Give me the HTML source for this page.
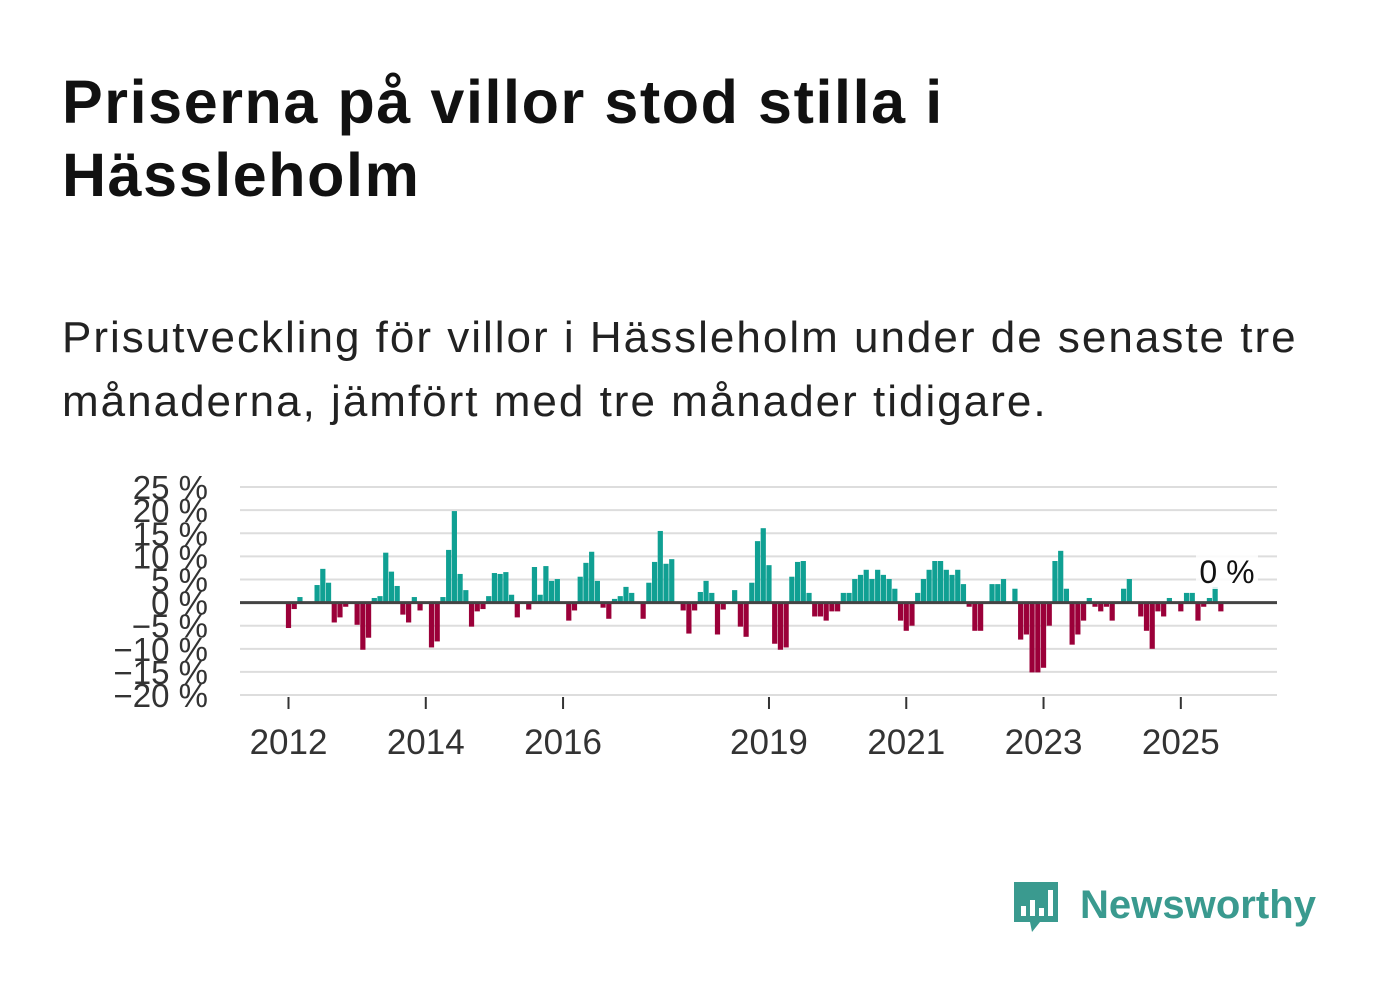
<!DOCTYPE html>
<html><head><meta charset="utf-8"><style>
body{margin:0;background:#fff;width:1382px;height:999px;overflow:hidden;font-family:"Liberation Sans",sans-serif;}
#title{position:absolute;left:62px;top:66px;font-size:61px;font-weight:bold;line-height:73px;color:#111;margin:0;width:1000px;letter-spacing:1.6px}
#sub{position:absolute;left:62px;top:306px;font-size:44px;line-height:64px;color:#222;width:1320px;letter-spacing:2px}
#logo{position:absolute;left:1010px;top:878px}
</style></head><body>
<h1 id="title">Priserna på villor stod stilla i Hässleholm</h1>
<div id="sub">Prisutveckling för villor i Hässleholm under de senaste tre månaderna, jämfört med tre månader tidigare.</div>
<svg id="chart" width="1382" height="999" style="position:absolute;left:0;top:0" xmlns="http://www.w3.org/2000/svg"></svg>
<div id="logo">
<svg width="330" height="62" xmlns="http://www.w3.org/2000/svg">
<path d="M4 4h44v40H30l-8 10-2-10H4z" fill="#3a9a8f"/>
<rect x="11" y="28" width="5" height="10" fill="#fff"/><rect x="20" y="22" width="5" height="16" fill="#fff"/><rect x="29" y="30" width="5" height="8" fill="#fff"/><rect x="38" y="12" width="5" height="26" fill="#fff"/>
<text x="70" y="40" font-family="Liberation Sans, sans-serif" font-weight="bold" font-size="40" textLength="236" fill="#3a9a8f">Newsworthy</text>
</svg></div>
<script>
const values=[-5.5,-1.4,1.2,0,0,3.8,7.3,4.3,-4.3,-3.2,-0.9,0,-4.8,-10.2,-7.6,1.0,1.4,10.8,6.7,3.6,-2.6,-4.3,1.2,-1.7,
0,-9.7,-8.4,1.2,11.4,19.8,6.2,2.7,-5.2,-1.9,-1.4,1.4,6.4,6.2,6.6,1.7,-3.2,0,-1.5,7.7,1.7,7.9,4.7,5.1,
0,-3.9,-1.7,5.6,8.6,11.0,4.7,-1.1,-3.5,0.8,1.4,3.4,2.1,0,-3.5,4.3,8.8,15.5,8.4,9.4,0,-1.7,-6.7,-1.7,
2.3,4.7,2.1,-6.9,-1.5,0,2.7,-5.2,-7.4,4.3,13.3,16.1,8.1,-8.9,-10.2,-9.7,5.6,8.8,9.0,2.1,-3.0,-3.0,
-3.9,-1.9,-1.9,2.1,2.1,5.1,6.0,7.1,5.1,7.1,6.0,5.1,3.0,-3.9,-6.1,-5.0,2.1,5.1,7.1,9.0,9.0,7.1,6.0,7.1,
4.0,-0.9,-6.1,-6.1,0,4.0,4.0,5.1,0,3.0,-8.0,-6.9,-15.1,-15.1,-14.1,-5.0,9.0,11.2,3.0,-9.1,-6.9,-3.9,1.0,-0.9,
-1.9,-0.9,-3.9,0,3.0,5.1,0,-3.0,-6.1,-10.0,-1.9,-3.0,1.0,0,-1.9,2.1,2.1,-3.9,-0.9,1.0,3.4,-1.9];
const startYear=2012;
const yTicks=[25,20,15,10,5,0,-5,-10,-15,-20];
const xTickYears=[2012,2014,2016,2019,2021,2023,2025];
const lastLabel="0 %";
const svg=document.getElementById('chart');
const NS='http://www.w3.org/2000/svg';
const y=v=>602.6-(v)*4.622;
const x=m=>288.5+m*5.72;
function mk(t,a){const e=document.createElementNS(NS,t);for(const k in a)e.setAttribute(k,a[k]);svg.appendChild(e);return e;}
yTicks.forEach(t=>{
 if(t!==0){const g=mk('line',{x1:240,x2:1277,y1:y(t),y2:y(t),stroke:'#ddd','stroke-width':2});
 
 }
 const l=mk('text',{x:208,y:y(t)+12,'text-anchor':'end','font-size':33,fill:'#333','font-family':'Liberation Sans, sans-serif'});
 l.textContent=(t<0?'\u2212'+(-t):t)+' %';
 
 
});
values.forEach((v,i)=>{
 if(v===0)return;
 const r=mk('rect',{x:x(i)-2.6,width:5.2,y:Math.min(y(v),y(0)),height:Math.abs(y(v)-y(0)),fill:v>0?'#10a093':'#9b0039'});
 
 
});
const z=mk('line',{x1:240,x2:1277,y1:y(0),y2:y(0),stroke:'#444','stroke-width':3});


xTickYears.forEach(yr=>{
 const px=x((yr-startYear)*12);
 const t=mk('line',{x1:px,x2:px,y1:697,y2:709,stroke:'#333','stroke-width':2});
 
 
 const l=mk('text',{x:px,y:754,'text-anchor':'middle','font-size':35,fill:'#333','font-family':'Liberation Sans, sans-serif'});
 l.textContent=yr;
 
 
});
const bg=mk('rect',{x:1196,y:553,width:62,height:36,fill:'#fff',opacity:0.85});


const lv=mk('text',{x:1227,y:583,'text-anchor':'middle','font-size':32,fill:'#111','font-family':'Liberation Sans, sans-serif'});
lv.textContent=lastLabel;


</script>
</body></html>
